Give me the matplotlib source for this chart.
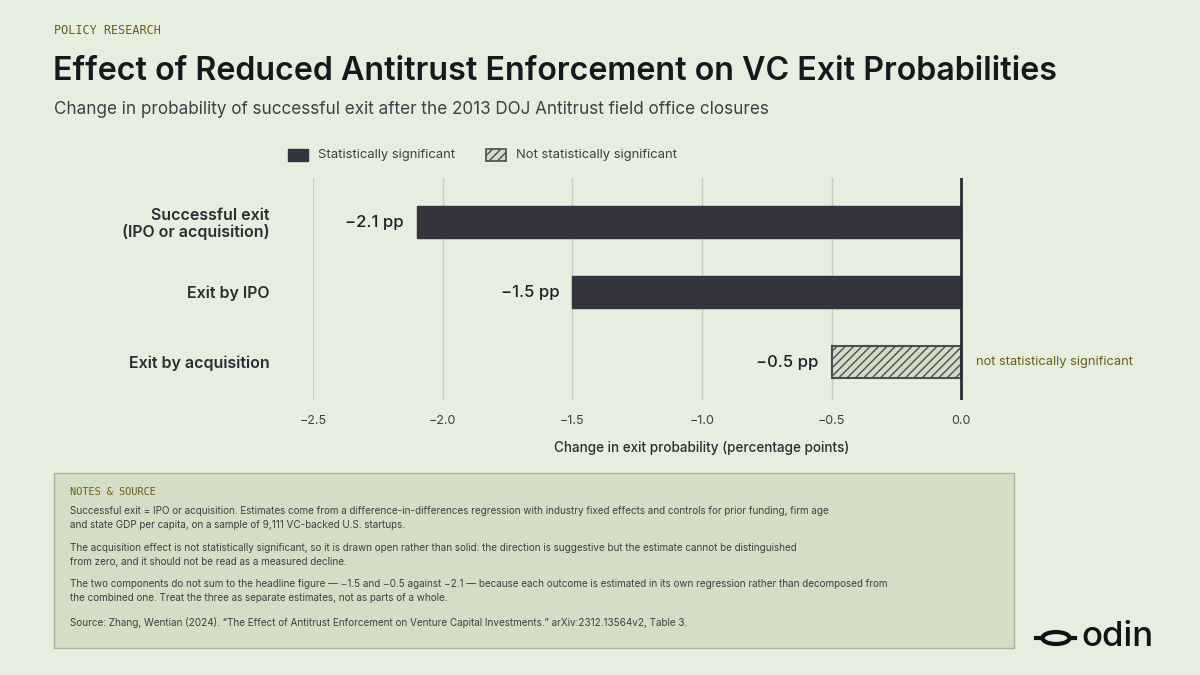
import matplotlib
matplotlib.use("Agg")
import matplotlib.pyplot as plt
from matplotlib.patches import Rectangle, Ellipse
from matplotlib.lines import Line2D

plt.rcParams['font.family'] = ['Inter', 'DejaVu Sans']
plt.rcParams['hatch.linewidth'] = 1.0

categories = ["Successful exit\n(IPO or acquisition)", "Exit by IPO", "Exit by acquisition"]
values = [-2.1, -1.5, -0.5]
significant = [True, True, False]
value_labels = ["\u22122.1 pp", "\u22121.5 pp", "\u22120.5 pp"]
xticks = [-2.5, -2.0, -1.5, -1.0, -0.5, 0.0]
xtick_labels = ["\u22122.5", "\u22122.0", "\u22121.5", "\u22121.0", "\u22120.5", "0.0"]

BG = "#e6eedf"
DARK = "#33343d"
HATCH_FACE = "#d5dcc6"
TEXT = "#2b2d30"
MUTED = "#3d4044"
OLIVE = "#6b5e1c"
GRID = "#c9cfbf"

W, H = 1200, 675
fig = plt.figure(figsize=(12, 6.75), dpi=100, facecolor=BG)

def fx(px):
    return px / W

def fy(py):
    return 1 - py / H

# Header
fig.text(fx(54), fy(31), "POLICY RESEARCH", fontsize=8.5, color=OLIVE, va="center", ha="left",
         family=["DejaVu Sans Mono", "DejaVu Sans"])
fig.text(fx(53), fy(71), "Effect of Reduced Antitrust Enforcement on VC Exit Probabilities",
         fontsize=23.2, fontweight="semibold", color="#16181b", va="center", ha="left")
fig.text(fx(54), fy(109), "Change in probability of successful exit after the 2013 DOJ Antitrust field office closures",
         fontsize=12.3, color=MUTED, va="center", ha="left")

# Legend
fig.patches.append(Rectangle((fx(288), fy(161)), fx(20), 12 / H, transform=fig.transFigure,
                             facecolor=DARK, edgecolor=DARK, lw=1))
fig.text(fx(318), fy(155), "Statistically significant", fontsize=9.4, color=MUTED, va="center", ha="left")
fig.patches.append(Rectangle((fx(486), fy(161)), fx(20), 12 / H, transform=fig.transFigure,
                             facecolor=HATCH_FACE, edgecolor="#4a4d50", lw=1.2, hatch="////"))
fig.text(fx(516), fy(155), "Not statistically significant", fontsize=9.4, color=MUTED, va="center", ha="left")

# Axes
ax = fig.add_axes([fx(313), fy(400), fx(1091) - fx(313), 222 / H])
ax.set_facecolor(BG)
ax.set_xlim(-2.5, 0.5)
ax.set_ylim(2.54, -0.63)
for s in ax.spines.values():
    s.set_visible(False)

for t in xticks[:-1]:
    ax.axvline(t, color=GRID, lw=1, zorder=0)
ax.axvline(0, color="#2a2b30", lw=2, zorder=3)

ys = list(range(len(categories)))
for y, v, sig, lab in zip(ys, values, significant, value_labels):
    if sig:
        ax.barh(y, v, height=0.46, color=DARK, edgecolor=DARK, zorder=2)
    else:
        ax.barh(y, v, height=0.46, color=HATCH_FACE, edgecolor="#4a4d50", lw=1.5,
                hatch="////", zorder=2)
    ax.text(v - 0.05, y, lab, ha="right", va="center", fontsize=12, fontweight="medium",
            color="#1d1f22")
    if not sig:
        ax.text(0.055, y, "not statistically significant", ha="left", va="center",
                fontsize=9.3, color=OLIVE)

ax.set_yticks(ys)
ax.set_yticklabels(categories, fontsize=11.5, fontweight="semibold", color=TEXT, linespacing=1.1)
ax.tick_params(axis="y", length=0, pad=31)
ax.set_xticks(xticks)
ax.set_xticklabels(xtick_labels, fontsize=9, color=MUTED)
ax.tick_params(axis="x", length=0, pad=11)
ax.set_xlabel("Change in exit probability (percentage points)", fontsize=9.7,
              fontweight="medium", color=TEXT, labelpad=10)

# Notes box
fig.patches.append(Rectangle((fx(54), fy(648)), fx(1014) - fx(54), (648 - 473) / H,
                             transform=fig.transFigure, facecolor="#d4ddc5",
                             edgecolor="#a9b59a", lw=1))
fig.text(fx(70), fy(492), "NOTES & SOURCE", fontsize=7.4, color=OLIVE, va="center", ha="left",
         family=["DejaVu Sans Mono", "DejaVu Sans"])
notes = [
    (518, "Successful exit = IPO or acquisition. Estimates come from a difference-in-differences regression with industry fixed effects and controls for prior funding, firm age\nand state GDP per capita, on a sample of 9,111 VC-backed U.S. startups."),
    (555, "The acquisition effect is not statistically significant, so it is drawn open rather than solid: the direction is suggestive but the estimate cannot be distinguished\nfrom zero, and it should not be read as a measured decline."),
    (591, "The two components do not sum to the headline figure \u2014 \u22121.5 and \u22120.5 against \u22122.1 \u2014 because each outcome is estimated in its own regression rather than decomposed from\nthe combined one. Treat the three as separate estimates, not as parts of a whole."),
    (622, "Source: Zhang, Wentian (2024). \u201cThe Effect of Antitrust Enforcement on Venture Capital Investments.\u201d arXiv:2312.13564v2, Table 3."),
]
for py, txt in notes:
    fig.text(fx(70), fy(py), txt, fontsize=7.15, color=MUTED, va="center", ha="left", linespacing=1.5)

# Logo
fig.add_artist(Line2D([fx(1036), fx(1075)], [fy(638), fy(638)], transform=fig.transFigure,
                      color="#111214", lw=3, zorder=2))
fig.add_artist(Ellipse((fx(1056), fy(638)), fx(27), 12 / H, transform=fig.transFigure,
                       facecolor=BG, edgecolor="#111214", lw=3, zorder=3))
fig.text(fx(1081), fy(637), "odin", fontsize=25, fontweight="medium", color="#111214",
         va="center", ha="left")

fig.savefig("out.png", dpi=100, facecolor=BG)
